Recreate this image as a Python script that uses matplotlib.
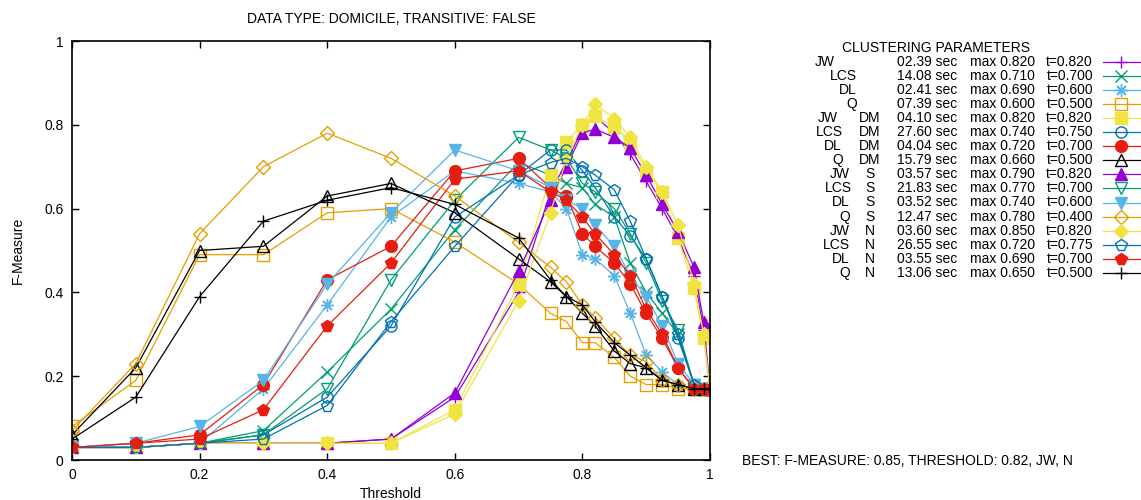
import matplotlib
matplotlib.use("Agg")
import matplotlib.pyplot as plt
from matplotlib.lines import Line2D

plt.rcParams['font.family'] = ['Liberation Sans', 'DejaVu Sans']
plt.rcParams['font.size'] = 10

W, H = 1141, 500

# thresholds used on x axis
thresholds = [0, 0.1, 0.2, 0.3, 0.4, 0.5, 0.6, 0.7, 0.75, 0.775, 0.8, 0.82,
              0.85, 0.875, 0.9, 0.925, 0.95, 0.975, 0.99, 1.0]

jw = [0.03, 0.03, 0.04, 0.04, 0.04, 0.05, 0.15, 0.40, 0.64, 0.71, 0.79, 0.82,
      0.78, 0.73, 0.665, 0.60, 0.53, 0.44, 0.31, 0.17]
lcs = [0.03, 0.03, 0.04, 0.07, 0.21, 0.36, 0.55, 0.71, 0.68, 0.66, 0.65, 0.61,
       0.58, 0.47, 0.40, 0.35, 0.30, 0.18, 0.17, 0.17]
dl = [0.03, 0.03, 0.04, 0.17, 0.37, 0.58, 0.69, 0.66, 0.64, 0.60, 0.49, 0.48,
      0.44, 0.35, 0.25, 0.21, 0.18, 0.17, 0.17, 0.17]
q = [0.08, 0.19, 0.49, 0.49, 0.59, 0.60, 0.52, 0.42, 0.35, 0.33, 0.28, 0.28,
     0.245, 0.20, 0.18, 0.18, 0.17, 0.17, 0.17, 0.17]
jw_dm = [0.03, 0.03, 0.04, 0.04, 0.04, 0.04, 0.12, 0.42, 0.68, 0.76, 0.80, 0.82,
         0.795, 0.76, 0.69, 0.64, 0.53, 0.41, 0.29, 0.17]
lcs_dm = [0.03, 0.03, 0.04, 0.06, 0.15, 0.32, 0.58, 0.68, 0.74, 0.74, 0.69, 0.65,
          0.58, 0.535, 0.48, 0.39, 0.29, 0.18, 0.17, 0.17]
dl_dm = [0.03, 0.04, 0.06, 0.18, 0.43, 0.51, 0.69, 0.72, 0.65, 0.63, 0.54, 0.51,
         0.47, 0.42, 0.35, 0.29, 0.22, 0.17, 0.17, 0.17]
q_dm = [0.06, 0.22, 0.50, 0.51, 0.63, 0.66, 0.59, 0.48, 0.425, 0.39, 0.35, 0.32,
        0.26, 0.23, 0.22, 0.19, 0.18, 0.17, 0.17, 0.17]
jw_s = [0.03, 0.03, 0.04, 0.04, 0.04, 0.05, 0.16, 0.45, 0.62, 0.70, 0.78, 0.79,
        0.77, 0.745, 0.68, 0.61, 0.545, 0.46, 0.33, 0.17]
lcs_s = [0.03, 0.03, 0.04, 0.06, 0.17, 0.43, 0.62, 0.77, 0.74, 0.72, 0.66, 0.64,
         0.60, 0.54, 0.47, 0.38, 0.31, 0.18, 0.17, 0.17]
dl_s = [0.03, 0.04, 0.08, 0.19, 0.42, 0.59, 0.74, 0.69, 0.65, 0.62, 0.60, 0.56,
        0.51, 0.44, 0.39, 0.32, 0.23, 0.18, 0.17, 0.17]
q_s = [0.07, 0.23, 0.54, 0.70, 0.78, 0.72, 0.63, 0.52, 0.46, 0.425, 0.37, 0.34,
       0.29, 0.25, 0.235, 0.19, 0.18, 0.17, 0.17, 0.17]
jw_n = [0.03, 0.03, 0.04, 0.04, 0.04, 0.04, 0.11, 0.38, 0.59, 0.72, 0.80, 0.85,
        0.815, 0.77, 0.70, 0.64, 0.56, 0.42, 0.30, 0.17]
lcs_n = [0.03, 0.03, 0.04, 0.05, 0.13, 0.33, 0.51, 0.68, 0.71, 0.72, 0.70, 0.68,
         0.645, 0.57, 0.48, 0.39, 0.30, 0.18, 0.17, 0.17]
dl_n = [0.03, 0.04, 0.05, 0.12, 0.32, 0.47, 0.67, 0.69, 0.64, 0.62, 0.58, 0.54,
        0.49, 0.44, 0.36, 0.30, 0.22, 0.17, 0.17, 0.17]
q_n = [0.05, 0.15, 0.39, 0.57, 0.62, 0.65, 0.61, 0.53, 0.43, 0.39, 0.37, 0.33,
       0.28, 0.25, 0.22, 0.19, 0.18, 0.17, 0.17, 0.17]

series = [jw, lcs, dl, q, jw_dm, lcs_dm, dl_dm, q_dm,
          jw_s, lcs_s, dl_s, q_s, jw_n, lcs_n, dl_n, q_n]
names = ["JW", "LCS", "DL", "Q"] * 4
variants = [""] * 4 + ["DM"] * 4 + ["S"] * 4 + ["N"] * 4
times = ["02.39", "14.08", "02.41", "07.39", "04.10", "27.60", "04.04", "15.79",
         "03.57", "21.83", "03.52", "12.47", "03.60", "26.55", "03.55", "13.06"]
maxes = ["0.820", "0.710", "0.690", "0.600", "0.820", "0.740", "0.720", "0.660",
         "0.790", "0.770", "0.740", "0.780", "0.850", "0.720", "0.690", "0.650"]
best_t = ["0.820", "0.700", "0.600", "0.500", "0.820", "0.750", "0.700", "0.500",
          "0.820", "0.700", "0.600", "0.400", "0.820", "0.775", "0.700", "0.500"]

# gnuplot style line colours / point types
purple, green, sky, orange = "#9400d3", "#009e73", "#56b4e9", "#e69f00"
yellow, blue, red, black = "#f0e442", "#0072b2", "#e51e10", "#000000"
colors = [purple, green, sky, orange, yellow, blue, red, black,
          purple, green, sky, orange, yellow, blue, red, black]
asterisk = (8, 2, 0)
styles = [("+", True), ("x", True), (asterisk, True), ("s", False),
          ("s", True), ("o", False), ("o", True), ("^", False),
          ("^", True), ("v", False), ("v", True), ("D", False),
          ("D", True), ("p", False), ("p", True), ("+", True)]
sizes = [9, 8, 9, 8, 8, 8, 8.5, 8.5, 8.5, 8.5, 8.5, 7, 7.5, 8.5, 8.5, 9]

fig = plt.figure(figsize=(W / 100, H / 100), dpi=100)
left, right, top, bottom = 72, 710, 41, 460
ax = fig.add_axes([left / W, 1 - bottom / H, (right - left) / W, (bottom - top) / H])


def px(x, y):
    return x / W, 1 - y / H


def marker_kw(i):
    m, filled = styles[i]
    kw = dict(marker=m, markersize=sizes[i], markeredgecolor=colors[i])
    if m in ("+", "x") or m == asterisk:
        kw["markeredgewidth"] = 1.0
    else:
        kw["markeredgewidth"] = 1.0
        kw["markerfacecolor"] = colors[i] if filled else "none"
    return kw


for i, ys in enumerate(series):
    ax.plot(thresholds, ys, color=colors[i], lw=0.9, **marker_kw(i))

ax.set_xlim(0, 1)
ax.set_ylim(0, 1)
ax.set_xticks([0, 0.2, 0.4, 0.6, 0.8, 1])
ax.set_xticklabels(["0", "0.2", "0.4", "0.6", "0.8", "1"])
ax.set_yticks([0, 0.2, 0.4, 0.6, 0.8, 1])
ax.set_yticklabels(["0", "0.2", "0.4", "0.6", "0.8", "1"])
ax.tick_params(direction="in", length=5, width=1, top=True, right=True,
               labelsize=10, pad=6)
for s in ax.spines.values():
    s.set_linewidth(1.2)

fig.text(*px(391, 19), "DATA TYPE: DOMICILE, TRANSITIVE: FALSE",
         ha="center", va="center", fontsize=10)
fig.text(*px(18, 250), "F-Measure", ha="center", va="center",
         rotation=90, fontsize=10)
fig.text(*px(391, 494), "Threshold", ha="center", va="center", fontsize=10)
fig.text(*px(742, 461), "BEST: F-MEASURE: 0.85, THRESHOLD: 0.82, JW, N",
         ha="left", va="center", fontsize=10)

# key
fig.text(*px(936, 48), "CLUSTERING PARAMETERS", ha="center", va="center",
         fontsize=10)
name_right = [835, 857, 857, 857, 838, 843, 842, 843,
              850, 852, 850, 850, 850, 850, 850, 850]
for i in range(16):
    y = 62 + i * 14.05
    fig.text(*px(name_right[i], y), names[i], ha="right", va="center",
             fontsize=10)
    if variants[i]:
        fig.text(*px(870, y), variants[i], ha="center", va="center",
                 fontsize=10)
    fig.text(*px(897, y), times[i] + " sec", ha="left", va="center",
             fontsize=10)
    fig.text(*px(970, y), "max " + maxes[i], ha="left", va="center",
             fontsize=10)
    fig.text(*px(1093, y), "t=" + best_t[i], ha="right", va="center",
             fontsize=10)
    x0, y0 = px(1103, y)
    x1, _ = px(1140, y)
    fig.add_artist(Line2D([x0, x1], [y0, y0], color=colors[i], lw=0.9,
                          transform=fig.transFigure))
    xm, _ = px(1121, y)
    fig.add_artist(Line2D([xm], [y0], color=colors[i], lw=0,
                          transform=fig.transFigure, **marker_kw(i)))

fig.savefig("out.png", dpi=100)
